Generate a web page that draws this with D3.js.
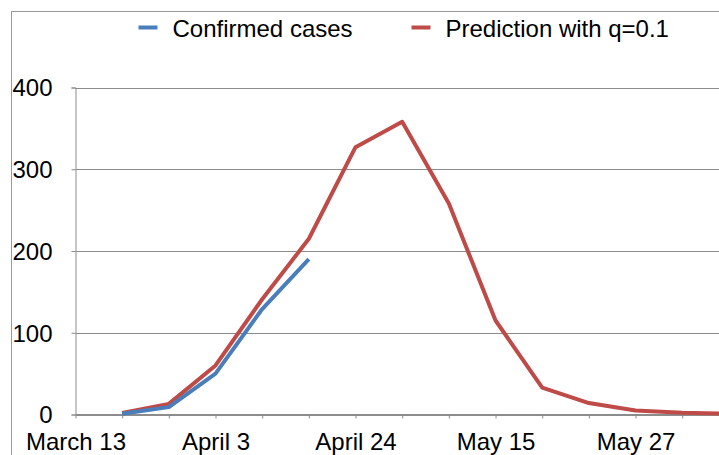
<!DOCTYPE html>
<html>
<head>
<meta charset="utf-8">
<script src="https://cdn.jsdelivr.net/npm/d3@7"></script>
<style>
  html, body { margin: 0; padding: 0; background: #fff; overflow: hidden; }
  svg { display: block; font-family: "Liberation Sans", Arial, Helvetica, sans-serif; }
</style>
</head>
<body>
<svg id="chart" width="719" height="455"></svg>
<script>
// ---- data ----
const categories = ["March 13", "", "", "April 3", "", "", "April 24", "", "", "May 15", "", "", "May 27", "", ""];
const confirmed = [null, 1, 9, 50, 129, 190, null, null, null, null, null, null, null, null, null];
const prediction = [null, 2, 13, 60, 141, 215, 327, 358, 258, 115, 33, 14, 5, 2, 1];
const yTicks = [0, 100, 200, 300, 400];
const seriesNames = ["Confirmed cases", "Prediction with q=0.1"];
const seriesColors = ["#4A7EBB", "#BE4B48"];

const svg = d3.select("#chart");
const W = 719, H = 455;

// outer chart frame
svg.append("rect")
  .attr("x", 11.5).attr("y", 11.5)
  .attr("width", W + 20).attr("height", H + 20)
  .attr("fill", "none").attr("stroke", "#9a9a9a").attr("stroke-width", 1);

const x = d3.scalePoint()
  .domain(d3.range(categories.length))
  .range([75.5, 75.5 + 46.67 * (categories.length - 1)]);

const y = d3.scaleLinear().domain([0, 400]).range([414.5, 87.5]);

// horizontal gridlines
svg.append("g")
  .selectAll("line")
  .data(yTicks)
  .join("line")
  .attr("x1", 75.5).attr("x2", W)
  .attr("y1", d => Math.round(y(d)) + 0.5)
  .attr("y2", d => Math.round(y(d)) + 0.5)
  .attr("stroke", "#8c8c8c").attr("stroke-width", 1.2);

// y axis
const yAxis = d3.axisLeft(y).tickValues(yTicks).tickSize(4).tickPadding(20).tickFormat(d3.format("d"));
const gy = svg.append("g").attr("transform", "translate(75.5,0)").call(yAxis);
gy.select(".domain").attr("stroke", "#8c8c8c");
gy.selectAll(".tick line").attr("stroke", "#8c8c8c");
gy.selectAll(".tick text")
  .attr("font-size", 24).attr("fill", "#000")
  .attr("font-family", "Liberation Sans, Arial, sans-serif")
  .attr("x", -23).attr("dy", "0.35em");

// x axis
const xAxis = d3.axisBottom(x).tickSize(4).tickPadding(14).tickFormat(i => categories[i]);
const gx = svg.append("g").attr("transform", "translate(0,414.5)").call(xAxis);
gx.select(".domain").attr("stroke", "#8c8c8c").attr("d", `M75.5,0H${W}`);
gx.selectAll(".tick line").attr("stroke", "#8c8c8c");
gx.selectAll(".tick text")
  .attr("font-size", 24).attr("fill", "#000")
  .attr("font-family", "Liberation Sans, Arial, sans-serif");

// lines
const line = d3.line()
  .defined(d => d != null)
  .x((d, i) => x(i))
  .y(d => y(d));

svg.append("path")
  .datum(prediction)
  .attr("d", line)
  .attr("fill", "none")
  .attr("stroke", seriesColors[1])
  .attr("stroke-width", 4)
  .attr("stroke-linejoin", "round");

svg.append("path")
  .datum(confirmed)
  .attr("d", line)
  .attr("fill", "none")
  .attr("stroke", seriesColors[0])
  .attr("stroke-width", 4)
  .attr("stroke-linejoin", "round");

// legend
const legendX = [138.5, 411.5];
const lg = svg.append("g");
seriesNames.forEach((name, i) => {
  lg.append("line")
    .attr("x1", legendX[i]).attr("x2", legendX[i] + 19)
    .attr("y1", 27.5).attr("y2", 27.5)
    .attr("stroke", seriesColors[i]).attr("stroke-width", 4);
  lg.append("text")
    .attr("x", legendX[i] + 34).attr("y", 36.5)
    .attr("font-size", 24).attr("fill", "#000")
    .text(name);
});
</script>
</body>
</html>
